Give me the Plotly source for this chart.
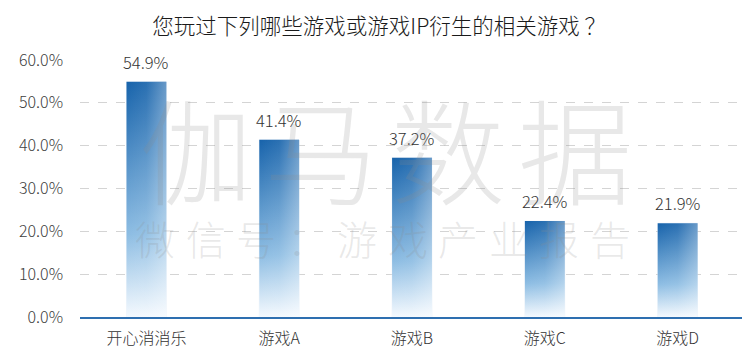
import plotly.graph_objects as go

title = "您玩过下列哪些游戏或游戏IP衍生的相关游戏 ？"
categories = ["开心消消乐", "游戏A", "游戏B", "游戏C", "游戏D"]
values = [54.9, 41.4, 37.2, 22.4, 21.9]
y_ticks = [0, 10, 20, 30, 40, 50, 60]
watermark_big = "伽马数据"
watermark_small = "微信号：游戏产业报告"

FONT = "Noto Sans CJK SC, Microsoft YaHei, sans-serif"
W, H = 750, 355
L, R, T, B = 72, 14, 52, 46
BAR_W = 0.3

fig = go.Figure()

# gradient-filled bars (vertical gradient + subtle horizontal sheen)
for i, v in enumerate(values):
    xs = [i - BAR_W / 2, i - BAR_W / 2, i + BAR_W / 2, i + BAR_W / 2, i - BAR_W / 2]
    ys = [0, v, v, 0, 0]
    fig.add_trace(go.Scatter(
        x=xs, y=ys, mode="lines", fill="toself", line=dict(width=0),
        fillgradient=dict(type="vertical",
                          colorscale=[[0, "#f4f9fe"], [0.35, "#8dbde3"], [1, "#1763ab"]]),
        hoverinfo="skip", showlegend=False))
    fig.add_trace(go.Scatter(
        x=xs, y=ys, mode="lines", fill="toself", line=dict(width=0),
        fillgradient=dict(type="horizontal",
                          colorscale=[[0, "rgba(255,255,255,0)"], [0.5, "rgba(255,255,255,0.08)"],
                                      [1, "rgba(255,255,255,0.35)"]]),
        hoverinfo="skip", showlegend=False))

# transparent bars (hover)
fig.add_trace(go.Bar(
    x=list(range(len(categories))), y=values, width=BAR_W,
    marker=dict(color="rgba(0,0,0,0)"),
    hovertemplate="%{y:.1f}%<extra></extra>", showlegend=False))

annotations = []
# value labels
for i, v in enumerate(values):
    annotations.append(dict(
        text=f"{v:.1f}%", x=i, y=v, xref="x", yref="y", showarrow=False,
        xanchor="center", yanchor="middle", yshift=20,
        font=dict(size=16.5, color="#333333", family=FONT, weight=300)))

# watermark characters
big_centers = [188, 313, 440, 567]
for ch, cx in zip(watermark_big, big_centers):
    annotations.append(dict(
        text=ch, x=(cx - L) / (W - L - R), y=1 - (138 - T) / (H - T - B),
        xref="paper", yref="paper", showarrow=False, xanchor="center", yanchor="middle",
        font=dict(size=114, color="rgba(140,140,140,0.2)", family=FONT, weight=300)))
for k, ch in enumerate(watermark_small):
    cx = 147 + k * 50.5
    annotations.append(dict(
        text=ch, x=(cx - L) / (W - L - R), y=1 - (230 - T) / (H - T - B),
        xref="paper", yref="paper", showarrow=False, xanchor="center", yanchor="middle",
        font=dict(size=40, color="rgba(140,140,140,0.2)", family=FONT, weight=300)))

fig.update_layout(
    width=W, height=H,
    margin=dict(l=L, r=R, t=T, b=B),
    paper_bgcolor="white", plot_bgcolor="white",
    font=dict(family=FONT, color="#404040"),
    title=dict(text=title, x=0.495, xref="container", xanchor="center",
               y=1 - 18 / H, yref="container", yanchor="middle",
               font=dict(size=21.5, color="#1a1a1a", family=FONT, weight=300)),
    xaxis=dict(range=[-0.5, len(categories) - 0.5], tickvals=list(range(len(categories))),
               ticktext=categories, showgrid=False, zeroline=False,
               showline=True, linecolor="#2e6fb0", linewidth=2,
               ticks="", ticklabelstandoff=6,
               tickfont=dict(size=16, color="#333333", family=FONT, weight=300)),
    yaxis=dict(range=[0, 60], tickvals=y_ticks, ticktext=[f"{t:.1f}%" for t in y_ticks],
               showgrid=True, gridcolor="#d4d4d4", griddash="dash", gridwidth=1,
               zeroline=False, showline=False, ticks="", ticklabelstandoff=16,
               tickfont=dict(size=16, color="#404040", family=FONT, weight=300)),
    annotations=annotations,
    bargap=0.7,
)

fig.write_html("out.html")
